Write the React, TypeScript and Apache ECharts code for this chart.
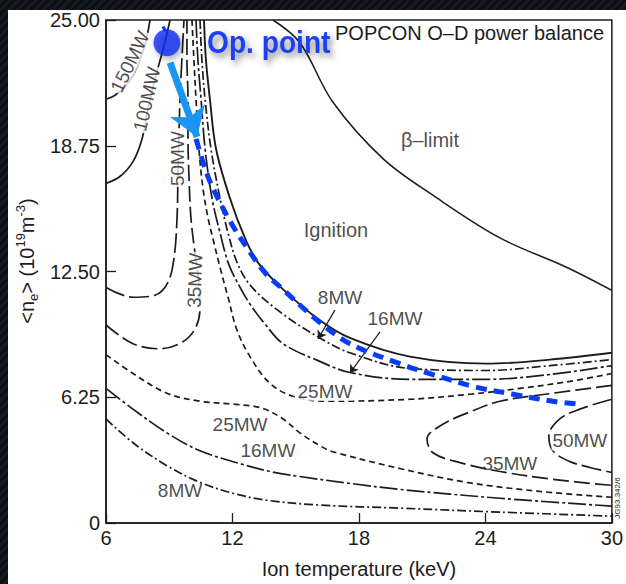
import React, { useEffect, useRef } from 'react';
import * as echarts from 'echarts';

// Axis ticks
const xTicks = [6, 12, 18, 24, 30];
const yTickLabels = ['0', '6.25', '12.50', '18.75', '25.00'];

// POPCON contours: [ion temperature keV, <n_e> 10^19 m^-3]
const betaLimit = [[13.92, 25], [15.2, 23.87], [16.77, 20.91], [19.14, 18.11], [21.51, 16.29], [24.69, 14.17], [27.87, 12.7], [30, 11.56]];
const ignition = [[10.65, 25], [10.74, 23.03], [10.93, 21.06], [11.22, 18.6], [11.88, 16.14], [12.59, 14.17], [13.21, 12.94], [14.4, 11.61], [16.06, 10.14], [17.57, 9.2], [20.42, 8.27], [24.07, 7.92], [27.06, 8.12], [30, 8.46]];
const p8Upper = [[10.46, 25], [10.55, 23.03], [10.7, 21.06], [10.98, 18.6], [11.41, 16.14], [11.79, 14.42], [12.26, 12.84], [12.93, 11.71], [14.4, 10.38], [16.06, 9.25], [17.57, 8.46], [20.42, 7.68], [24.07, 7.58], [27.06, 7.82], [30, 8.12]];
const p16Upper = [[10.27, 25], [10.36, 23.03], [10.51, 21.06], [10.7, 18.6], [11.03, 16.14], [11.41, 14.42], [11.83, 12.84], [12.36, 11.71], [12.83, 10.88], [13.54, 9.89], [14.4, 8.91], [16.06, 8.07], [17.57, 7.48], [20.42, 7.14], [24.07, 7.14], [27.06, 7.38], [30, 7.82]];
const p25Upper = [[10.08, 25], [10.17, 23.03], [10.27, 21.06], [10.41, 18.6], [10.6, 16.63], [10.84, 15.16], [11.12, 13.93], [11.41, 12.7], [11.79, 11.22], [12.21, 9.6], [12.83, 8.27], [13.78, 6.94], [14.87, 6.3], [16.48, 6.05], [20.42, 6.15], [23.26, 6.4], [25.64, 6.69], [28.01, 7.04], [30, 7.43]];
const p35Left = [[6, 9.84], [7.28, 8.91], [8.56, 8.66], [9.65, 9.01], [10.27, 9.74], [10.46, 10.73], [10.41, 11.96], [10.22, 13.43], [10.03, 15.16], [9.94, 17.13], [9.89, 19.09], [9.89, 21.06], [9.84, 23.03], [9.84, 25]];
const p50Left = [[6, 11.71], [7.28, 11.22], [8.32, 11.32], [8.94, 11.96], [9.23, 13.19], [9.37, 15.16], [9.42, 17.62], [9.51, 21.06], [9.6, 23.03], [9.7, 25]];
const p100 = [[9.04, 25], [8.7, 23.52], [8.32, 22.05], [7.99, 20.57], [7.71, 19.09], [7.28, 17.96], [6.66, 17.22], [6, 16.88]];
const p150 = [[8.09, 25], [7.85, 23.77], [7.47, 22.64], [7, 21.8], [6.43, 21.26], [6, 21.06]];
const p25Lower = [[6, 8.37], [7.28, 7.43], [8.89, 6.45], [10.46, 6.05], [12.02, 5.91], [13.4, 5.71], [14.4, 5.17], [15.2, 4.48], [16.15, 3.84], [16.77, 3.54], [19.94, 2.71], [23.12, 2.02], [26.58, 1.57], [30, 1.28]];
const p16Lower = [[6, 6.69], [7.28, 5.66], [8.89, 4.48], [10.46, 3.59], [12.36, 2.95], [13.78, 2.56], [15.2, 2.31], [17.57, 1.97], [19.94, 1.67], [24.69, 1.23], [30, 0.84]];
const p8Lower = [[6, 5.17], [7.28, 3.99], [8.89, 2.85], [10.46, 2.02], [12.02, 1.48], [13.64, 1.13], [16.15, 0.89], [19.94, 0.74], [24.69, 0.54], [30, 0.34]];
const p35Right = [[30, 6.84], [27.2, 6.45], [24.69, 6.05], [23.12, 5.46], [21.84, 4.82], [21.23, 4.18], [21.51, 3.49], [22.79, 3.0], [24.69, 2.56], [27.2, 2.17], [30, 1.87]];
const p50Right = [[30, 6.15], [28.48, 5.66], [27.53, 5.17], [27.01, 4.33], [27.2, 3.59], [28.01, 3.05], [28.96, 2.76], [30, 2.51]];

// Operating point and its trajectory
const opPoint = [8.89, 23.87];
const opStem = [[8.7, 24.68], [8.84, 24.43]];
const opArrow = [[9.04, 22.88], [10.32, 19.19]];
const opPath = [[10.27, 19.09], [10.7, 17.62], [11.08, 16.63], [11.88, 15.01], [12.69, 13.68], [13.54, 12.45], [14.4, 11.61], [16.01, 10.09], [17.57, 8.91], [19.94, 7.92], [21.51, 7.38], [23.41, 6.79], [25.31, 6.4], [27.2, 6.05], [28.39, 5.91]];

// Contour annotations
const contourLabels = [
  { text: '150MW', t: 7.14, n: 22.93, rot: 64, bg: true },
  { text: '100MW', t: 7.94, n: 21.06, rot: 77, bg: true },
  { text: '50MW', t: 9.37, n: 18.11, rot: 90, bg: true },
  { text: '35MW', t: 10.22, n: 12.06, rot: 88, bg: true },
  { text: '8MW', t: 17.1, n: 11.22, rot: 0, bg: false },
  { text: '16MW', t: 19.71, n: 10.14, rot: 0, bg: false },
  { text: '25MW', t: 16.39, n: 6.55, rot: 0, bg: true },
  { text: '25MW', t: 12.36, n: 4.92, rot: 0, bg: false },
  { text: '16MW', t: 13.68, n: 3.59, rot: 0, bg: false },
  { text: '8MW', t: 9.51, n: 1.62, rot: 0, bg: false },
  { text: '35MW', t: 25.16, n: 2.95, rot: 0, bg: false },
  { text: '50MW', t: 28.48, n: 4.08, rot: 0, bg: true },
];
const regionLabels = [
  { text: 'β–limit', t: 21.37, n: 19.05 },
  { text: 'Ignition', t: 16.91, n: 14.57 },
];
const pointerArrows = [
  [[16.86, 10.58], [16.06, 9.15]],
  [[19.0, 9.5], [17.57, 7.45]],
];

const INK = '#1c1c1c';
const FONT = "'Liberation Sans', Arial, Helvetica, sans-serif";

const DASH_8 = [9, 3, 2, 3];
const DASH_16 = [18, 3, 3, 3];
const DASH_25 = [6, 4];
const DASH_35 = [16, 5];
const DASH_50 = [20, 5];

function contour(data: number[][], type: any, width = 1.7) {
  return {
    type: 'line',
    data,
    smooth: 0.35,
    symbol: 'none',
    silent: true,
    z: 2,
    lineStyle: { color: INK, width, type },
  };
}

export default function App() {
  const ref = useRef<HTMLDivElement>(null);

  useEffect(() => {
    const chart = echarts.init(ref.current!, undefined, { renderer: 'svg' });
    const option: any = {
      animation: false,
      backgroundColor: 'transparent',
      grid: {
        left: 106, right: 14, top: 20, bottom: 56,
        show: true, borderColor: INK, borderWidth: 1.5, backgroundColor: '#fff',
      },
      xAxis: {
        type: 'value', min: xTicks[0], max: xTicks[xTicks.length - 1], interval: 6,
        name: 'Ion temperature (keV)', nameLocation: 'middle', nameGap: 36,
        nameTextStyle: { fontSize: 20, color: INK, fontFamily: FONT },
        axisLine: { lineStyle: { color: INK, width: 1.5 } },
        axisTick: { inside: true, length: 10, lineStyle: { color: INK, width: 1.3 } },
        axisLabel: { margin: 5, fontSize: 20, color: INK, fontFamily: FONT },
        splitLine: { show: false },
      },
      yAxis: {
        type: 'value', min: 0, max: 25, interval: 6.25,
        axisLine: { lineStyle: { color: INK, width: 1.5 } },
        axisTick: { inside: true, length: 10, lineStyle: { color: INK, width: 1.3 } },
        axisLabel: {
          margin: 6, fontSize: 20, color: INK, fontFamily: FONT,
          formatter: (v: number) => yTickLabels[Math.round(v / 6.25)],
        },
        splitLine: { show: false },
      },
      series: [
        contour(betaLimit, 'solid', 1.5),
        contour(ignition, 'solid', 1.9),
        contour(p8Upper, DASH_8),
        contour(p16Upper, DASH_16),
        contour(p25Upper, DASH_25),
        contour(p35Left, DASH_35),
        contour(p50Left, DASH_50),
        contour(p100, 'solid'),
        contour(p150, 'solid'),
        contour(p25Lower, DASH_25),
        contour(p16Lower, DASH_16),
        contour(p8Lower, DASH_8),
        contour(p35Right, DASH_35),
        contour(p50Right, DASH_50),
        {
          type: 'lines', coordinateSystem: 'cartesian2d', z: 4, silent: true,
          symbol: ['none', 'arrow'], symbolSize: [0, 8],
          lineStyle: { color: INK, width: 1.2, opacity: 1 },
          data: pointerArrows.map((c) => ({ coords: c })),
        },
        {
          type: 'scatter', z: 5, silent: true, symbolSize: 1,
          itemStyle: { color: 'rgba(0,0,0,0)' },
          data: contourLabels.map((l) => ({
            value: [l.t, l.n],
            label: {
              show: true, position: 'inside', formatter: l.text, rotate: l.rot,
              fontSize: 19, color: INK, fontFamily: FONT,
              backgroundColor: l.bg ? '#fff' : 'transparent', padding: l.bg ? [0, 1] : 0,
            },
          })),
        },
        {
          type: 'scatter', z: 5, silent: true, symbolSize: 1,
          itemStyle: { color: 'rgba(0,0,0,0)' },
          data: regionLabels.map((l) => ({
            value: [l.t, l.n],
            label: { show: true, position: 'inside', formatter: l.text, fontSize: 20, color: INK, fontFamily: FONT },
          })),
        },
        {
          type: 'line', data: opPath, smooth: 0.35, symbol: 'none', silent: true, z: 6,
          lineStyle: { color: '#0a3cf5', width: 5, type: [11, 7] },
        },
        {
          type: 'lines', coordinateSystem: 'cartesian2d', z: 6, silent: true,
          symbol: ['none', 'arrow'], symbolSize: [0, 28],
          lineStyle: { color: '#1a96f2', width: 7, opacity: 1 },
          data: [{ coords: opArrow }],
        },
        {
          type: 'lines', coordinateSystem: 'cartesian2d', z: 7, silent: true,
          lineStyle: { color: '#0b2ef0', width: 3, opacity: 1 },
          data: [{ coords: opStem }],
        },
        {
          type: 'scatter', z: 8, silent: true, symbolSize: 27,
          itemStyle: {
            color: '#0b2ef0', shadowColor: 'rgba(0,0,0,0.4)', shadowBlur: 6,
            shadowOffsetX: 2, shadowOffsetY: 3,
          },
          data: [opPoint],
        },
      ],
      graphic: [
        {
          type: 'text', x: 335, y: 33, z: 100, silent: true,
          style: {
            text: 'POPCON O–D power balance', fill: INK, fontSize: 20, fontFamily: FONT,
            align: 'left', verticalAlign: 'middle',
          },
        },
        {
          type: 'text', x: 207, y: 42, z: 100, silent: true, scaleX: 0.88,
          style: {
            text: 'Op. point', fill: '#1c3ff2', fontSize: 32, fontWeight: 'bold',
            fontFamily: FONT,
            align: 'left', verticalAlign: 'middle',
            textShadowColor: 'rgba(0,0,0,0.45)', textShadowBlur: 6,
            textShadowOffsetX: 3, textShadowOffsetY: 4,
          },
        },
        {
          type: 'text', x: 27, y: 261, rotation: Math.PI / 2, z: 100, silent: true,
          style: {
            text: '{a|<n}{b|e}{a|> (10}{c|19}{a|m}{c|-3}{a|)}',
            align: 'center', verticalAlign: 'middle', fill: INK,
            rich: {
              a: { fontSize: 20, fontFamily: FONT, color: INK, lineHeight: 26, verticalAlign: 'middle' },
              b: { fontSize: 13, fontFamily: FONT, color: INK, lineHeight: 26, verticalAlign: 'bottom' },
              c: { fontSize: 13, fontFamily: FONT, color: INK, lineHeight: 26, verticalAlign: 'top' },
            },
          },
        },
        {
          type: 'text', x: 617, y: 498, rotation: Math.PI / 2, z: 100, silent: true,
          style: {
            text: 'JG93.342/6', fill: INK, fontSize: 8, fontFamily: FONT,
            align: 'center', verticalAlign: 'middle',
          },
        },
      ],
    };
    chart.setOption(option);
    return () => chart.dispose();
  }, []);

  return (
    <div
      style={{
        position: 'fixed', left: 0, top: 0, width: 626, height: 584, overflow: 'hidden',
        background: 'repeating-linear-gradient(135deg, #161a20 0px, #161a20 3px, #0b0e12 3px, #0b0e12 6px)',
      }}
    >
      <div style={{ position: 'absolute', left: 8, top: 10, right: 0, bottom: 0, background: '#fff' }} />
      <div ref={ref} style={{ position: 'absolute', left: 0, top: 0, width: 626, height: 584 }} />
    </div>
  );
}
